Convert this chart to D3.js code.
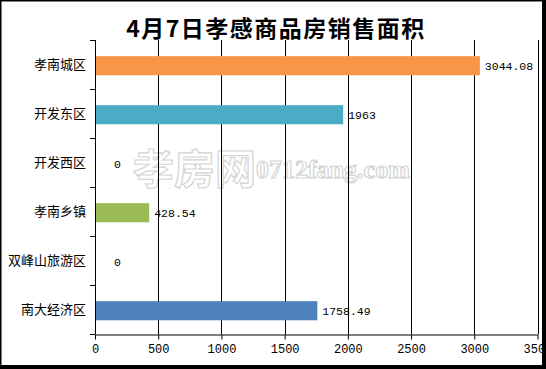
<!DOCTYPE html>
<html>
<head>
<meta charset="utf-8">
<script src="https://cdn.jsdelivr.net/npm/d3@7"></script>
<style>
  html, body { margin: 0; padding: 0; background: #fff; }
</style>
</head>
<body>
<div id="chart"></div>
<script>
// data
const categories = ["孝南城区", "开发东区", "开发西区", "孝南乡镇", "双峰山旅游区", "南大经济区"];
const values = [3044.08, 1963, 0, 428.54, 0, 1758.49];
const barColors = ["#F79646", "#4BACC6", "#C0504D", "#9BBB59", "#8064A2", "#4F81BD"];
const labelTexts = ["3044.08", "1963", "0", "428.54", "0", "1758.49"];
const xTicks = [0, 500, 1000, 1500, 2000, 2500, 3000, 3500];
const title = "4月7日孝感商品房销售面积";

const W = 546, H = 369;
const plot = { left: 95, right: 537.5, top: 40, bottom: 334 };

const svg = d3.select("#chart").append("svg")
  .attr("width", W)
  .attr("height", H);

svg.append("defs").append("clipPath").attr("id", "inside")
  .append("rect").attr("x", 0).attr("y", 0).attr("width", 543).attr("height", 366);

const root = svg.append("g").attr("clip-path", "url(#inside)");

const x = d3.scaleLinear().domain([0, 3500]).range([plot.left, plot.right]);
const y = d3.scaleBand().domain(categories).range([plot.top, plot.bottom]).padding(0);
const bw = y.bandwidth();

// watermark
const wm = root.append("g").attr("fill", "#fff").attr("stroke", "#d4d4d4").attr("stroke-width", 1.2);
wm.append("text")
  .attr("x", 133).attr("y", 184)
  .attr("font-family", "Noto Sans CJK SC").attr("font-size", 41).attr("font-weight", "bold")
  .text("孝房网");
wm.append("text")
  .attr("x", 256).attr("y", 178)
  .attr("font-family", "Liberation Serif").attr("font-size", 26).attr("font-weight", "bold")
  .text("0712fang.com");

// vertical grid lines
root.append("g")
  .selectAll("line")
  .data(xTicks.slice(1))
  .join("line")
    .attr("x1", d => Math.round(x(d)) + 0.5)
    .attr("x2", d => Math.round(x(d)) + 0.5)
    .attr("y1", plot.top)
    .attr("y2", plot.bottom)
    .attr("stroke", "#000")
    .attr("stroke-width", 1);

// bottom axis
const xAxis = root.append("g")
  .attr("transform", `translate(0,${plot.bottom + 0.5})`)
  .call(d3.axisBottom(x).tickValues(xTicks).tickFormat(d3.format("d"))
    .tickSize(5).tickSizeOuter(0).tickPadding(5));
xAxis.select(".domain").attr("stroke", "#000");
xAxis.selectAll(".tick line").attr("stroke", "#000");
xAxis.selectAll("text")
  .attr("font-family", "Liberation Mono")
  .attr("font-size", 12)
  .attr("fill", "#000");

// left axis: ticks on band boundaries
const bounds = categories.map(c => y(c)).concat([plot.bottom]);
root.append("line")
  .attr("x1", plot.left + 0.5).attr("x2", plot.left + 0.5)
  .attr("y1", plot.top).attr("y2", plot.bottom)
  .attr("stroke", "#000");
root.append("g")
  .selectAll("line")
  .data(bounds)
  .join("line")
    .attr("x1", plot.left - 5).attr("x2", plot.left)
    .attr("y1", d => Math.round(d) + 0.5)
    .attr("y2", d => Math.round(d) + 0.5)
    .attr("stroke", "#000");

root.append("g")
  .attr("font-family", "Noto Sans CJK SC")
  .attr("font-size", 13)
  .attr("text-anchor", "end")
  .selectAll("text")
  .data(categories)
  .join("text")
    .attr("x", 86)
    .attr("y", d => y(d) + bw / 2)
    .attr("dy", "0.35em")
    .text(d => d);

// bars
const barTop = bw * 0.33, barH = bw * 0.39;
root.append("g")
  .selectAll("rect")
  .data(values)
  .join("rect")
    .attr("x", plot.left + 1)
    .attr("y", (d, i) => y(categories[i]) + barTop)
    .attr("width", d => Math.max(0, x(d) - plot.left - 1))
    .attr("height", barH)
    .attr("fill", (d, i) => barColors[i]);

// value labels
root.append("g")
  .attr("font-family", "Liberation Mono")
  .attr("font-size", 11.5)
  .selectAll("text")
  .data(values)
  .join("text")
    .attr("x", d => d === 0 ? x(0) + 19 : x(d) + 5)
    .attr("y", (d, i) => y(categories[i]) + barTop + barH / 2)
    .attr("dy", "0.35em")
    .text((d, i) => labelTexts[i]);

// title
root.append("text")
  .attr("x", 276)
  .attr("y", 37)
  .attr("text-anchor", "middle")
  .attr("font-family", "Noto Sans CJK SC")
  .attr("font-weight", "bold")
  .attr("font-size", 23)
  .attr("letter-spacing", 1.5)
  .text(title);

// frame: thin top/left, heavier bottom/right
svg.append("rect")
  .attr("x", 0.75).attr("y", 0.75)
  .attr("width", 542).attr("height", 365)
  .attr("fill", "none").attr("stroke", "#000").attr("stroke-width", 1.5);
svg.append("line").attr("x1", 544.5).attr("x2", 544.5).attr("y1", 0).attr("y2", H).attr("stroke", "#000").attr("stroke-width", 3);
svg.append("line").attr("x1", 0).attr("x2", W).attr("y1", 367.5).attr("y2", 367.5).attr("stroke", "#000").attr("stroke-width", 3);
</script>
</body>
</html>
